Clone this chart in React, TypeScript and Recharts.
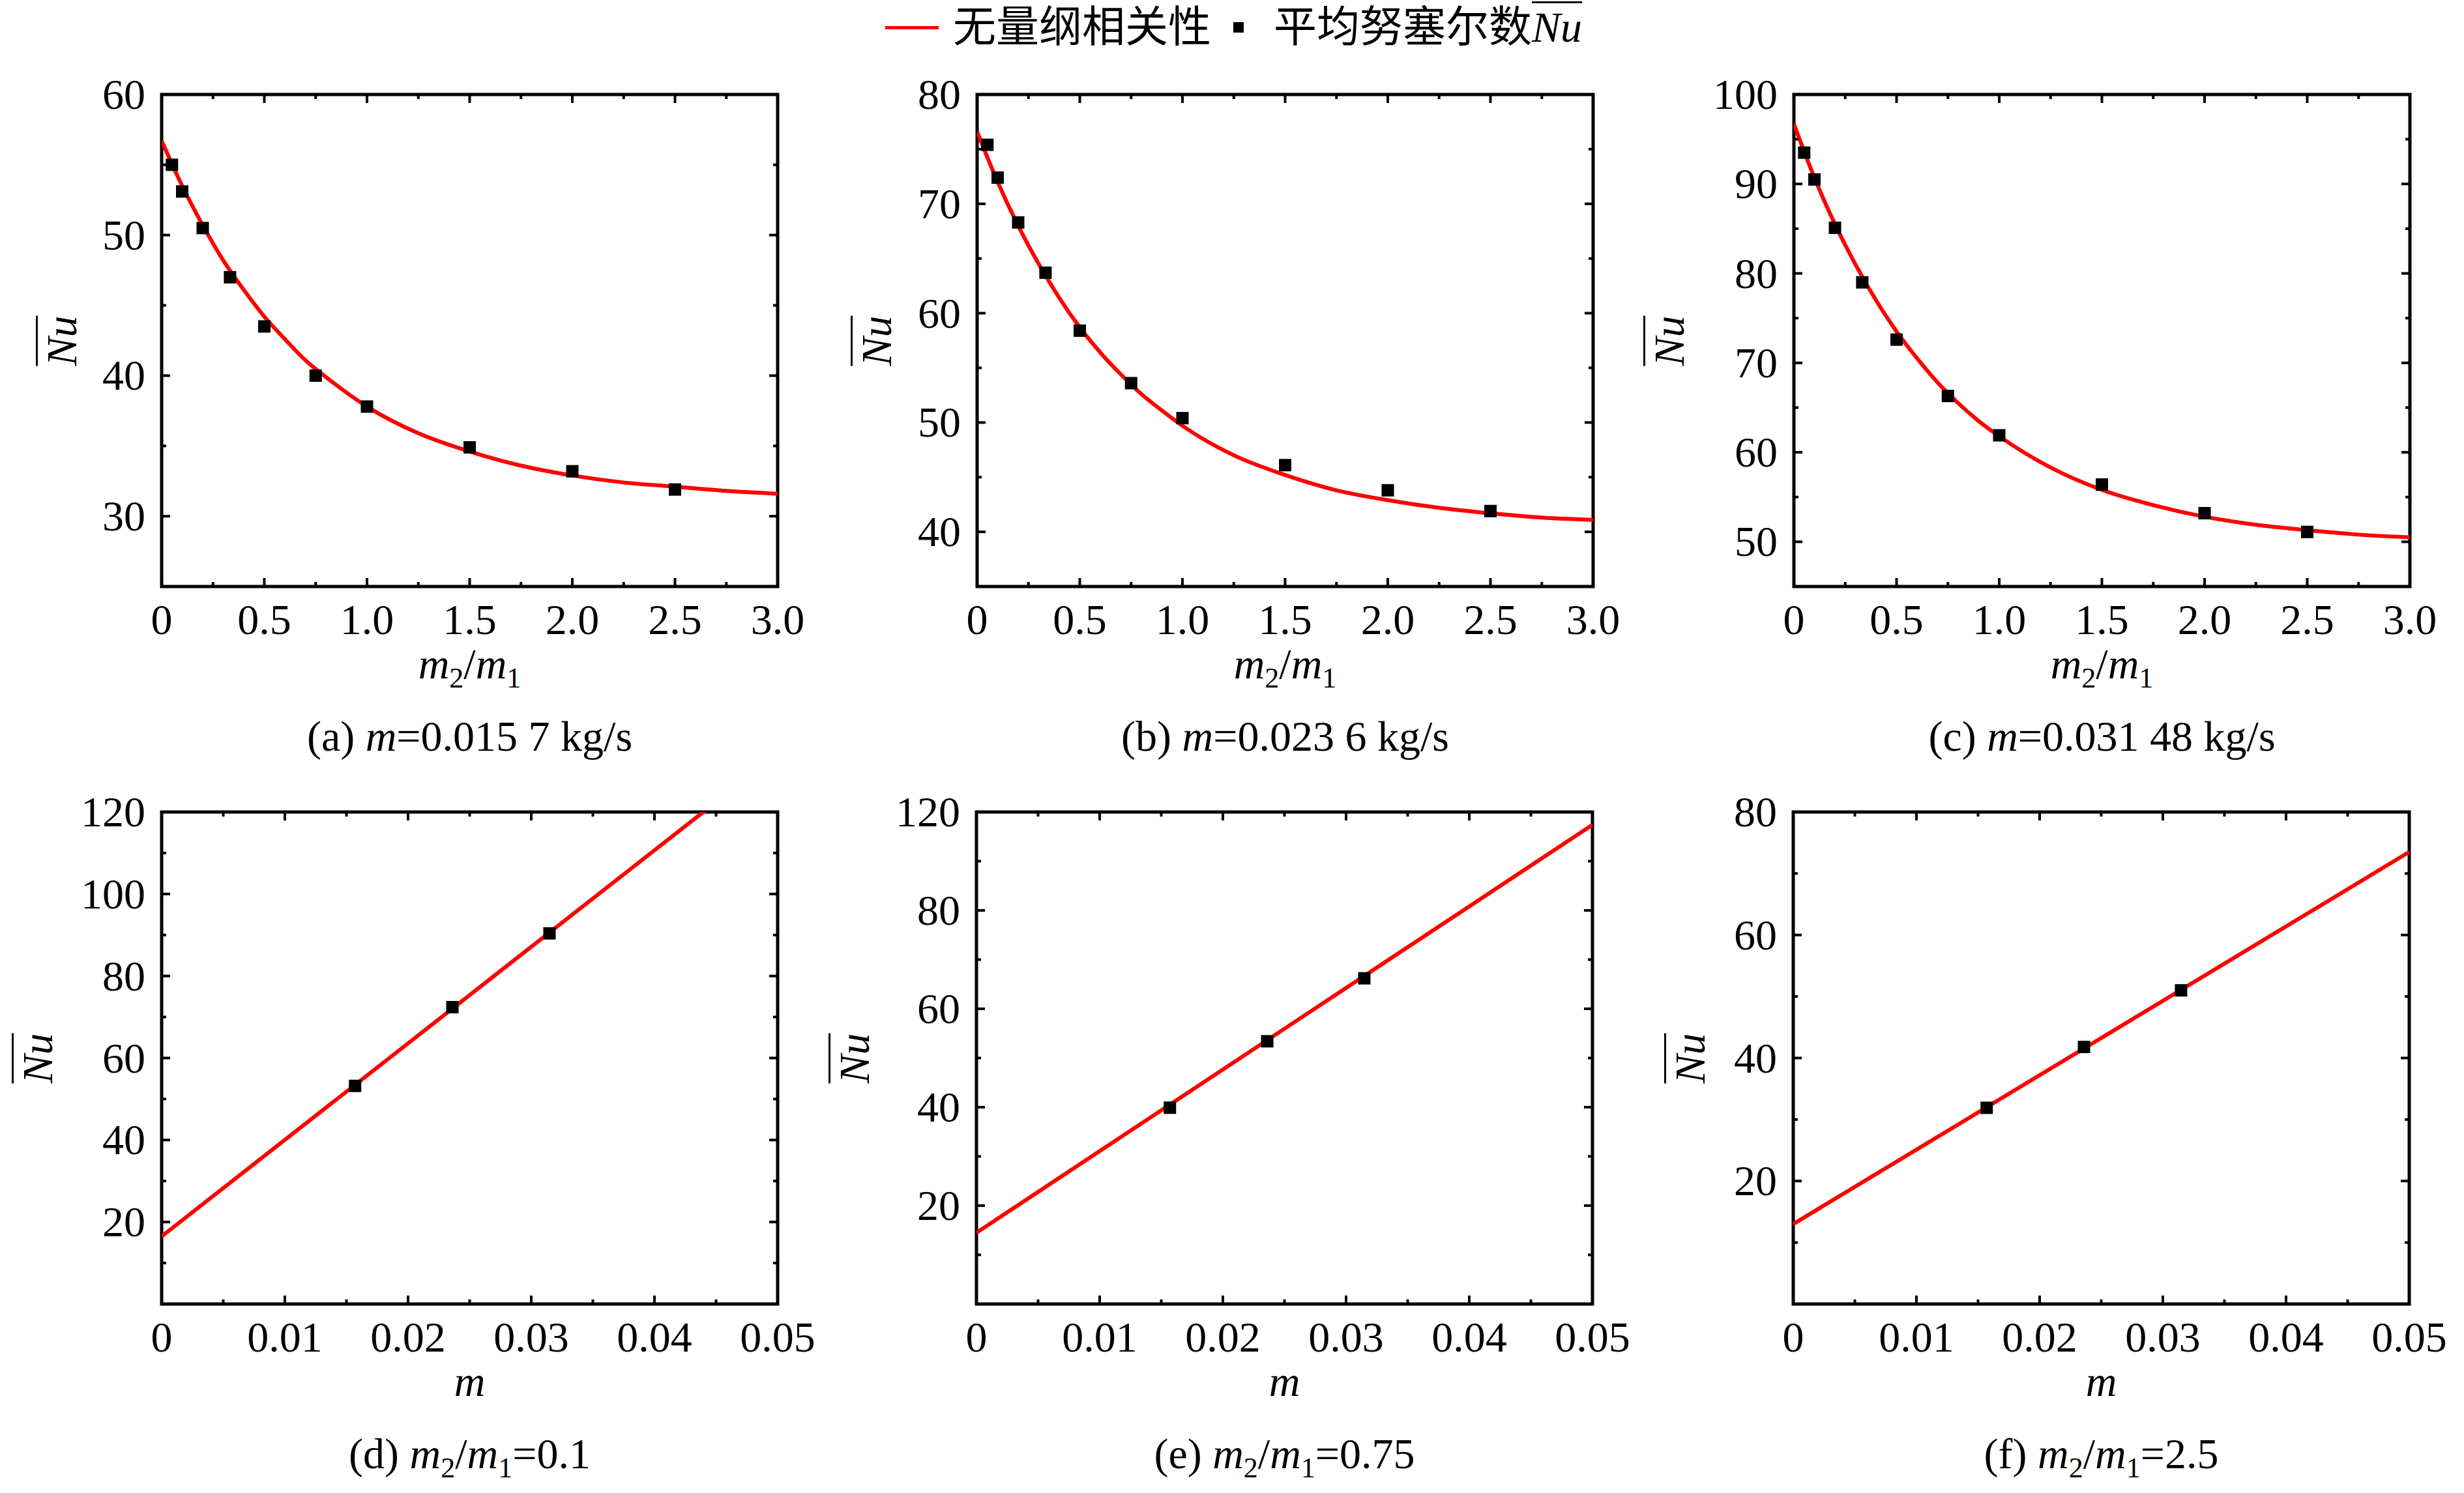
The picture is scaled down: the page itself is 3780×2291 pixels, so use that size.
import React from 'react'
import { ComposedChart, Line, Scatter, XAxis, YAxis, ReferenceArea } from 'recharts'

// 横坐标取值
const ratioGrid = [0, 0.1, 0.2, 0.3, 0.4, 0.5, 0.6, 0.7, 0.8, 0.9, 1.0, 1.25, 1.5, 1.75, 2.0, 2.25, 2.5, 2.75, 3.0]
const ratioPoints = [0.05, 0.1, 0.2, 0.333, 0.5, 0.75, 1.0, 1.5, 2.0, 2.5]
const flowGrid = [0, 0.05]
const flowPoints = [0.0157, 0.0236, 0.03148]

// (a)(b)(c) 相关式曲线与数值结果
const fitA = [56.7, 53.5, 50.7, 48.2, 46.1, 44.2, 42.6, 41.1, 39.9, 38.8, 37.8, 35.9, 34.6, 33.6, 32.9, 32.4, 32.1, 31.8, 31.6]
const nuA = [55.0, 53.1, 50.5, 47.0, 43.5, 40.0, 37.8, 34.9, 33.2, 31.9]
const fitB = [76.6, 72.0, 68.0, 64.5, 61.4, 58.7, 56.4, 54.4, 52.6, 51.1, 49.7, 47.0, 45.2, 43.8, 42.9, 42.2, 41.7, 41.3, 41.1]
const nuB = [75.4, 72.4, 68.3, 63.7, 58.4, 53.6, 50.4, 46.1, 43.8, 41.9]
const fitC = [96.7, 90.7, 85.5, 81.0, 77.0, 73.5, 70.5, 67.8, 65.5, 63.5, 61.8, 58.3, 55.8, 54.1, 52.8, 51.9, 51.3, 50.8, 50.5]
const nuC = [93.5, 90.5, 85.1, 79.0, 72.6, 66.3, 61.9, 56.4, 53.2, 51.1]

// (d)(e)(f)
const fitD = [16.5, 134.2]
const nuD = [53.2, 72.4, 90.4]
const fitE = [14.5, 97.4]
const nuE = [39.9, 53.4, 66.2]
const fitF = [13.0, 73.5]
const nuF = [31.9, 41.8, 51.0]

// 刻度
const ratioTicks = [0, 0.5, 1, 1.5, 2, 2.5, 3]
const ratioMinor = [0.25, 0.75, 1.25, 1.75, 2.25, 2.75]
const ratioLabels = ['0', '0.5', '1.0', '1.5', '2.0', '2.5', '3.0']
const flowTicks = [0, 0.01, 0.02, 0.03, 0.04, 0.05]
const flowMinor = [0.005, 0.015, 0.025, 0.035, 0.045]
const flowLabels = ['0', '0.01', '0.02', '0.03', '0.04', '0.05']

const aYTicks = [30, 40, 50, 60]
const aYMinor = [35, 45, 55]
const aYLabels = ['30', '40', '50', '60']
const bYTicks = [40, 50, 60, 70, 80]
const bYMinor = [45, 55, 65, 75]
const bYLabels = ['40', '50', '60', '70', '80']
const cYTicks = [50, 60, 70, 80, 90, 100]
const cYMinor = [55, 65, 75, 85, 95]
const cYLabels = ['50', '60', '70', '80', '90', '100']
const dYTicks = [20, 40, 60, 80, 100, 120]
const dYMinor = [10, 30, 50, 70, 90, 110]
const dYLabels = ['20', '40', '60', '80', '100', '120']
const eYTicks = [20, 40, 60, 80, 100]
const eYMinor = [10, 30, 50, 70, 90]
const eYLabels = ['20', '40', '60', '80', '120'] // 原图顶端刻度即标作 120
const fYTicks = [20, 40, 60, 80]
const fYMinor = [10, 30, 50, 70]
const fYLabels = ['20', '40', '60', '80']

const rows = (xs: number[], ys: number[]) => xs.map((x, i) => ({ x, y: ys[i] }))

const panels = [
  { id: 'a', fit: rows(ratioGrid, fitA), pts: rows(ratioPoints, nuA), xDomain: [0, 3], xTicks: ratioTicks, xMinor: ratioMinor, xLabels: ratioLabels, yDomain: [25, 60], yTicks: aYTicks, yMinor: aYMinor, yLabels: aYLabels, byRatio: true, value: '0.015 7 kg/s' },
  { id: 'b', fit: rows(ratioGrid, fitB), pts: rows(ratioPoints, nuB), xDomain: [0, 3], xTicks: ratioTicks, xMinor: ratioMinor, xLabels: ratioLabels, yDomain: [35, 80], yTicks: bYTicks, yMinor: bYMinor, yLabels: bYLabels, byRatio: true, value: '0.023 6 kg/s' },
  { id: 'c', fit: rows(ratioGrid, fitC), pts: rows(ratioPoints, nuC), xDomain: [0, 3], xTicks: ratioTicks, xMinor: ratioMinor, xLabels: ratioLabels, yDomain: [45, 100], yTicks: cYTicks, yMinor: cYMinor, yLabels: cYLabels, byRatio: true, value: '0.031 48 kg/s' },
  { id: 'd', fit: rows(flowGrid, fitD), pts: rows(flowPoints, nuD), xDomain: [0, 0.05], xTicks: flowTicks, xMinor: flowMinor, xLabels: flowLabels, yDomain: [0, 120], yTicks: dYTicks, yMinor: dYMinor, yLabels: dYLabels, byRatio: false, value: '0.1' },
  { id: 'e', fit: rows(flowGrid, fitE), pts: rows(flowPoints, nuE), xDomain: [0, 0.05], xTicks: flowTicks, xMinor: flowMinor, xLabels: flowLabels, yDomain: [0, 100], yTicks: eYTicks, yMinor: eYMinor, yLabels: eYLabels, byRatio: false, value: '0.75' },
  { id: 'f', fit: rows(flowGrid, fitF), pts: rows(flowPoints, nuF), xDomain: [0, 0.05], xTicks: flowTicks, xMinor: flowMinor, xLabels: flowLabels, yDomain: [0, 80], yTicks: fYTicks, yMinor: fYMinor, yLabels: fYLabels, byRatio: false, value: '2.5' },
]

// 版面位置（像素）
const layout = [
  { left: 248, top: 145, yTitle: 153 },
  { left: 1499, top: 145, yTitle: 154 },
  { left: 2752, top: 145, yTitle: 191 },
  { left: 248, top: 1246, yTitle: 190 },
  { left: 1498, top: 1246, yTitle: 187 },
  { left: 2751, top: 1246, yTitle: 158 },
]

const SERIF = '"Liberation Serif", "Times New Roman", "Noto Sans CJK SC", serif'
const PW = 945
const PH = 755
const ML = 160
const MT = 60
const MR = 90
const XH = 100
const FS = 66

const xTick = (major: number[], labels: string[]) => (props: any) => {
  const { x, y, payload } = props
  const i = major.indexOf(payload.value)
  const len = i >= 0 ? 13 : 7
  return (
    <g>
      <line x1={x} x2={x} y1={y} y2={y - len} stroke="#000" strokeWidth={4} />
      <line x1={x} x2={x} y1={y - PH} y2={y - PH + len} stroke="#000" strokeWidth={4} />
      {i >= 0 && (
        <text x={x} y={y + 73} textAnchor="middle" fontFamily={SERIF} fontSize={FS} fill="#000">
          {labels[i]}
        </text>
      )}
    </g>
  )
}

const yTick = (major: number[], labels: string[]) => (props: any) => {
  const { x, y, payload } = props
  const i = major.indexOf(payload.value)
  const len = i >= 0 ? 13 : 7
  return (
    <g>
      <line x1={x} x2={x + len} y1={y} y2={y} stroke="#000" strokeWidth={4} />
      <line x1={x + PW} x2={x + PW - len} y1={y} y2={y} stroke="#000" strokeWidth={4} />
      {i >= 0 && (
        <text x={x - 25} y={y + 22} textAnchor="end" fontFamily={SERIF} fontSize={FS} fill="#000">
          {labels[i]}
        </text>
      )}
    </g>
  )
}

const Ratio = () => (
  <>
    <i>m</i>
    <sub style={{ fontSize: 44, lineHeight: 0 }}>2</sub>/<i>m</i>
    <sub style={{ fontSize: 44, lineHeight: 0 }}>1</sub>
  </>
)

const Nu = () => <i style={{ textDecoration: 'overline', textDecorationThickness: 3 }}>Nu</i>

const square = (p: any) => <rect x={p.cx - 9.5} y={p.cy - 9.5} width={19} height={19} fill="#000" />

function Panel({ p, pos }: { p: (typeof panels)[number]; pos: (typeof layout)[number] }) {
  const cx = pos.left + PW / 2
  const bottom = pos.top + PH
  const text: React.CSSProperties = {
    position: 'absolute',
    fontSize: FS,
    lineHeight: 1,
    whiteSpace: 'nowrap',
    transform: 'translate(-50%, -50%)',
  }
  return (
    <>
      <div style={{ position: 'absolute', left: pos.left - ML, top: pos.top - MT }}>
        <ComposedChart width={ML + PW + MR} height={MT + PH + XH} margin={{ top: MT, right: MR, bottom: 0, left: 0 }}>
          <Line data={p.fit} dataKey="y" type="monotone" stroke="#ff0000" strokeWidth={6} dot={false} isAnimationActive={false} />
          <Scatter data={p.pts} dataKey="y" shape={square} isAnimationActive={false} />
          <ReferenceArea x1={p.xDomain[0]} x2={p.xDomain[1]} y1={p.yDomain[0]} y2={p.yDomain[1]} fill="none" fillOpacity={0} stroke="#000" strokeWidth={5} />
          <XAxis
            dataKey="x"
            type="number"
            domain={p.xDomain}
            allowDataOverflow
            ticks={[...p.xTicks, ...p.xMinor].sort((a, b) => a - b)}
            interval={0}
            tickSize={0}
            tickMargin={0}
            axisLine={false}
            tickLine={false}
            tick={xTick(p.xTicks, p.xLabels)}
            height={XH}
          />
          <YAxis
            type="number"
            domain={p.yDomain}
            allowDataOverflow
            ticks={[...p.yTicks, ...p.yMinor].sort((a, b) => a - b)}
            interval={0}
            tickSize={0}
            tickMargin={0}
            axisLine={false}
            tickLine={false}
            tick={yTick(p.yTicks, p.yLabels)}
            width={ML}
          />
        </ComposedChart>
      </div>
      <div style={{ ...text, left: pos.left - pos.yTitle, top: pos.top + PH / 2, transform: 'translate(-50%, -50%) rotate(-90deg)' }}>
        <Nu />
      </div>
      <div style={{ ...text, left: cx, top: bottom + 119 }}>
        {p.byRatio ? <Ratio /> : <i>m</i>}
      </div>
      <div style={{ ...text, left: cx, top: bottom + 230 }}>
        ({p.id}) {p.byRatio ? <i>m</i> : <Ratio />}={p.value}
      </div>
    </>
  )
}

export default function App() {
  return (
    <div
      style={{
        position: 'absolute',
        left: 0,
        top: 0,
        width: 3780,
        height: 2291,
        background: '#fff',
        color: '#000',
        fontFamily: SERIF,
        overflow: 'hidden',
      }}
    >
      <div
        style={{
          position: 'absolute',
          left: 1358,
          top: 42,
          transform: 'translateY(-50%)',
          display: 'flex',
          alignItems: 'center',
          fontSize: FS,
          lineHeight: 1,
          whiteSpace: 'nowrap',
        }}
      >
        <span style={{ display: 'inline-block', width: 82, height: 5, background: '#ff0000' }} />
        <span style={{ marginLeft: 22 }}>无量纲相关性</span>
        <span style={{ display: 'inline-block', marginLeft: 34, width: 16, height: 16, background: '#000' }} />
        <span style={{ marginLeft: 46 }}>
          平均努塞尔数<Nu />
        </span>
      </div>
      {panels.map((p, i) => (
        <Panel key={p.id} p={p} pos={layout[i]} />
      ))}
    </div>
  )
}
